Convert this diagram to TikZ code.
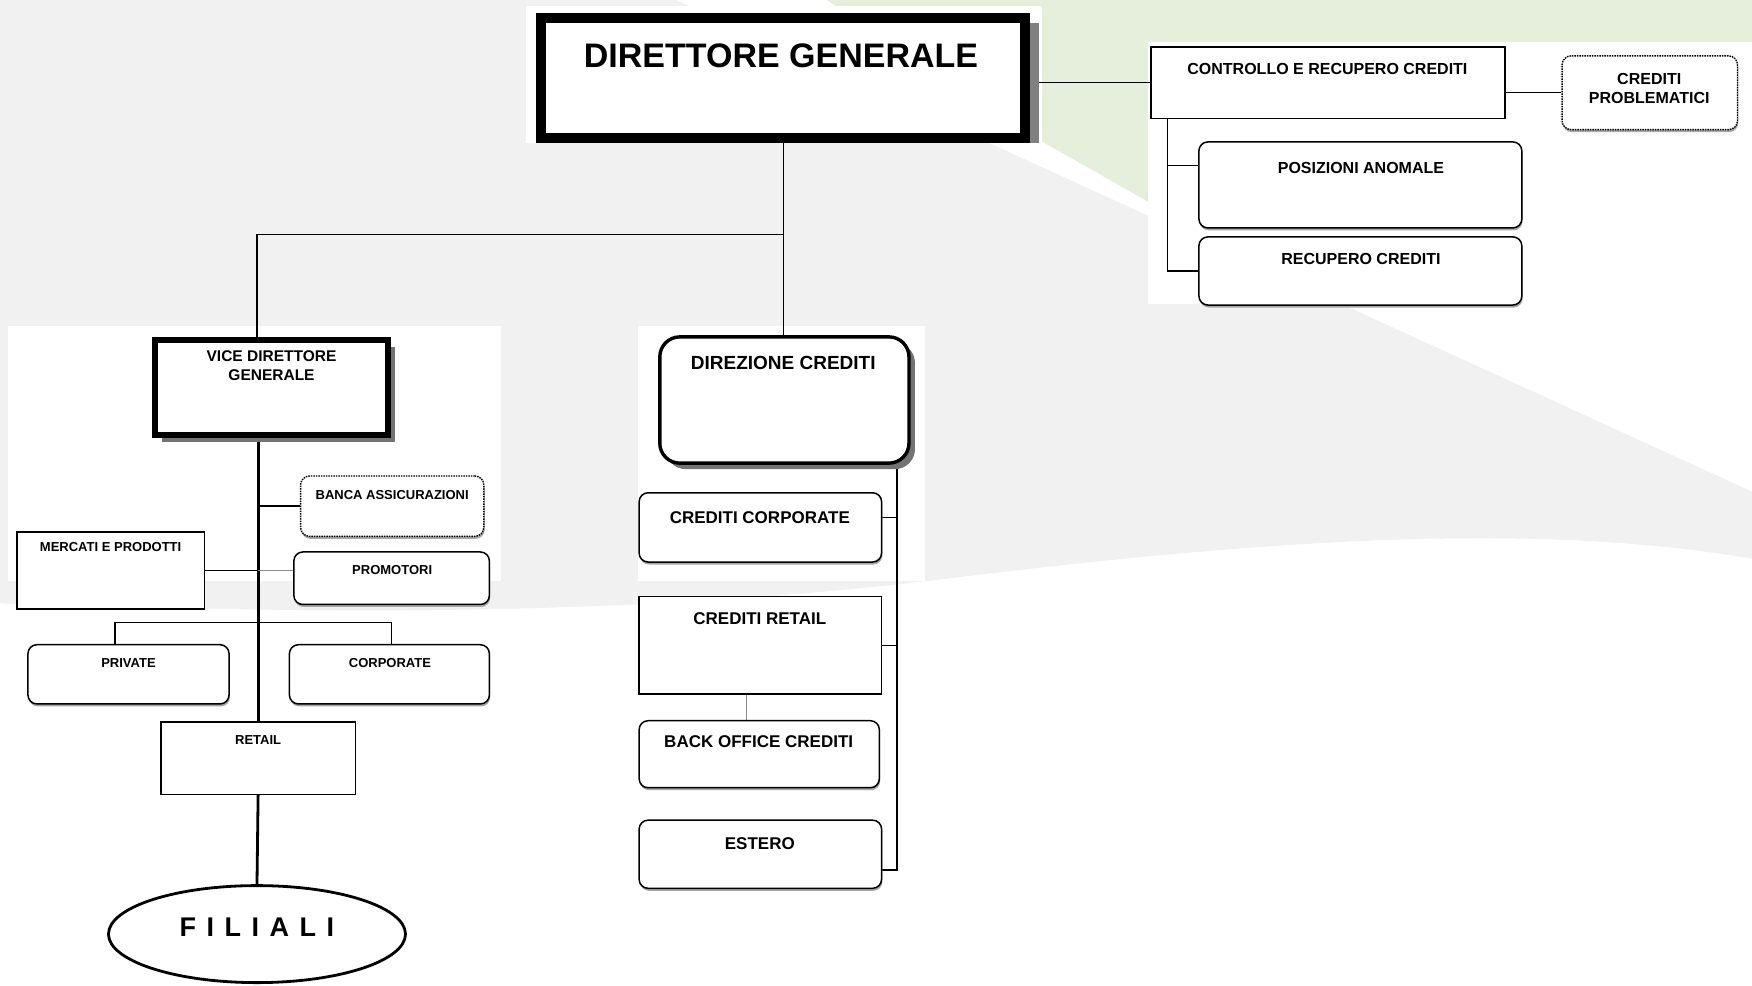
\documentclass[tikz,border=0pt]{standalone}
\usepackage{fontspec}
\setmainfont{Liberation Sans}
\usepackage{tikz}
\usetikzlibrary{calc,fit,shapes.geometric,shadows}
\tikzset{>=stealth}
\pgfdeclarelayer{bg}
\pgfdeclarelayer{links}
\pgfsetlayers{bg,links,main}
\definecolor{bggray}{RGB}{241,241,241}
\definecolor{bggreen}{RGB}{230,239,220}

\tikzset{
  box/.style={draw, fill=white, line width=1.5pt, inner sep=0pt},
  rbox/.style={box, rounded corners=9pt,
    drop shadow={shadow xshift=0.8pt, shadow yshift=-2.5pt, fill=black!35, opacity=1}},
  dotbox/.style={rbox, densely dotted, line width=1.4pt},
  heavybox/.style={box, line width=10pt},
  vicebox/.style={box, line width=5.6pt,
    drop shadow={shadow xshift=7pt, shadow yshift=-7pt, fill=black!55, opacity=1}},
  dcbox/.style={box, line width=3.4pt, rounded corners=20pt,
    drop shadow={shadow xshift=6pt, shadow yshift=-6pt, fill=black!55, opacity=1}},
  txt/.style={inner sep=0pt, align=center, font=\bfseries\fontsize{#1}{1.22\dimexpr #1pt\relax}\selectfont},
  link/.style={line width=1.5pt},
  spine/.style={line width=2.8pt}
}

\begin{document}
\begin{tikzpicture}[x=1.1173pt,y=-1.1173pt]
    \useasboundingbox (0,0) rectangle (1568,882);
    % slide background
    \begin{pgfonlayer}{bg}
    \fill[white] (0,0) rectangle (1568,882);
    \fill[bggray] (0,0) -- (605,0) -- (1568,440) -- (1568,500)
        .. controls (1380,468) and (1150,480) .. (830,520)
        .. controls (500,558) and (200,545) .. (0,540) -- cycle;
    \fill[bggreen] (740,0) -- (1568,0) -- (1568,272) -- (1030,182) -- (935,128) -- cycle;
    \fill[white] (471,5) rectangle (933,128);
    \fill[white] (1027,38) rectangle (1568,272);
    \fill[white] (7,292) rectangle (448,520);
    \fill[white] (571,292) rectangle (828,520);
    \end{pgfonlayer}

    % direzione
    \fill[black!50] (489,21) rectangle (930,128);
    \node[heavybox, fit={(484.5,16.5) (917.5,123.5)}] (dg) {};
    \node[txt=34] (dgt) at (699,50) {DIRETTORE GENERALE};

    \node[box, fit={(1030,42) (1347,106)}] (crc) {};
    \node[txt=16] (crct) at (1188,62) {CONTROLLO E RECUPERO CREDITI};
    \node[dotbox, fit={(1398,50) (1555,116)}] (cp) {};
    \node[txt=16] (cpt) at (1476,79) {CREDITI\\PROBLEMATICI};
    \node[rbox, fit={(1073,127) (1362,204)}] (pa) {};
    \node[txt=16] (pat) at (1218,150) {POSIZIONI ANOMALE};
    \node[rbox, fit={(1073,212) (1362,273)}] (rc) {};
    \node[txt=16] (rct) at (1218,232) {RECUPERO CREDITI};

    % vice direttore
    \node[vicebox, fit={(138.5,304.5) (347.5,389.5)}] (vdg) {};
    \node[txt=15.5] (vdgt) at (243,327.5) {VICE DIRETTORE\\GENERALE};
    \node[dotbox, fit={(269,426) (433,480)}] (ba) {};
    \node[txt=13] (bat) at (351,443) {BANCA ASSICURAZIONI};
    \node[box, fit={(15,476) (183,545)}] (mp) {};
    \node[txt=13] (mpt) at (99,490) {MERCATI E PRODOTTI};
    \node[rbox, fit={(263,494) (438,541)}] (pro) {};
    \node[txt=13] (prot) at (351,510) {PROMOTORI};
    \node[rbox, fit={(25,577) (205,630)}] (priv) {};
    \node[txt=13] (privt) at (115,593) {PRIVATE};
    \node[rbox, fit={(259,577) (438,630)}] (corp) {};
    \node[txt=13] (corpt) at (349,593) {CORPORATE};
    \node[box, fit={(144,646) (318,711)}] (ret) {};
    \node[txt=13] (rett) at (231,662) {RETAIL};
    \node[ellipse, draw, fill=white, line width=2.8pt, inner sep=0pt,
          minimum width=297pt, minimum height=97pt] (fil) at (230,836) {};
    \node[txt=27] (filt) at (230,830) {\spaceskip=10.5pt F I L I A L I};

    % direzione crediti
    \node[dcbox, fit={(590.5,301.5) (813.5,414.5)}] (dc) {};
    \node[txt=19] (dct) at (701,325) {DIREZIONE CREDITI};
    \node[rbox, fit={(572,441) (789,503)}] (cc) {};
    \node[txt=17] (cct) at (680,463) {CREDITI CORPORATE};
    \node[box, fit={(572,534) (789,621)}] (cr) {};
    \node[txt=17] (crt) at (680,554) {CREDITI RETAIL};
    \node[rbox, fit={(572,645) (787,705)}] (boc) {};
    \node[txt=17] (boct) at (679,664) {BACK OFFICE CREDITI};
    \node[rbox, fit={(572,734) (789,795)}] (est) {};
    \node[txt=17] (estt) at (680,755) {ESTERO};

    \begin{pgfonlayer}{links}
    \coordinate (dgj) at (dg.south |- 0,210);
    \coordinate (crcs) at (crc.south -| 1045,0);
    \coordinate (dcs) at (dc.south -| 803,0);
    \draw[link] (dg.south) -- (dg.south |- dc.north);
    \draw[link] (dgj) -| ($(vdg.north)+(-13,0)$);
    \draw[link] (dg.east |- crc.west) -- (crc.west);
    \draw[link] (crc.east |- cp.west) -- (cp.west);
    \draw[link] (crcs) |- (pa.west |- 0,148);
    \draw[link] (crcs) |- (rc.west);

    \draw[spine] (vdg.south -| ret.north) -- (ret.north);
    \draw[spine] (ret.south) -- (fil.north);
    \draw[link] (ba.west -| ret.north) -- (ba.west);
    \draw[link] (mp.east) -- (mp.east -| ret.north);
    \draw[link, black!45] (mp.east -| ret.north) -- (mp.east -| pro.west);
    \draw[link, line width=1.2pt] ($(priv.north)+(-12,0)$) -- ++(0,-19) -| ($(corp.north)+(2,0)$);

    \draw[link, line width=2pt] (dcs) |- (est.east |- 0,779);
    \draw[link] (cc.east |- 0,463) -- (dcs |- 0,463);
    \draw[link] (cr.east) -- (dcs |- cr.east);
    \draw[link, black!45] (cr.south -| 668,0) -- (boc.north -| 668,0);
    \end{pgfonlayer}
\end{tikzpicture}
\end{document}
